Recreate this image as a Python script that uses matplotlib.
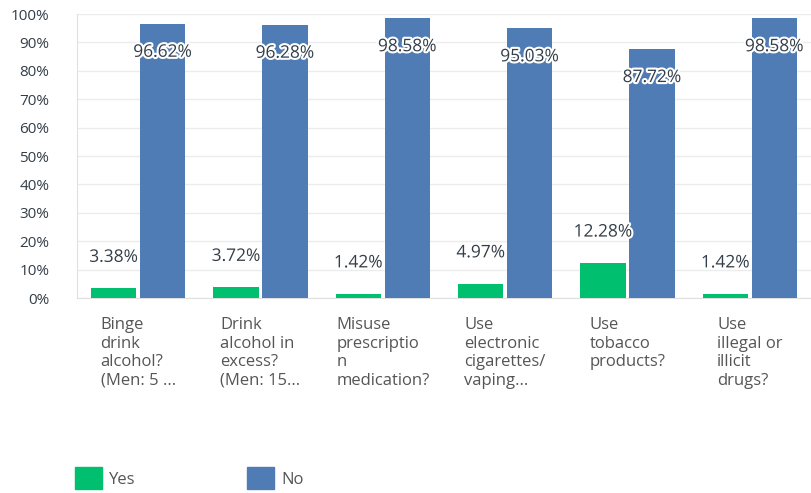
import numpy as np
import matplotlib
matplotlib.use("Agg")
from matplotlib import pyplot as plt
from matplotlib import patheffects as pe
from matplotlib.patches import Patch

# データ
categories = [
    "Binge\ndrink\nalcohol?\n(Men: 5 ...",
    "Drink\nalcohol in\nexcess?\n(Men: 15...",
    "Misuse\nprescriptio\nn\nmedication?",
    "Use\nelectronic\ncigarettes/\nvaping...",
    "Use\ntobacco\nproducts?",
    "Use\nillegal or\nillicit\ndrugs?",
]
yes_vals = [3.38, 3.72, 1.42, 4.97, 12.28, 1.42]
no_vals = [96.62, 96.28, 98.58, 95.03, 87.72, 98.58]
series_names = ["Yes", "No"]
y_ticks = list(range(0, 101, 10))

GREEN = "#00bf6f"
BLUE = "#507cb6"
TXT = "#333e48"

plt.rcParams['font.family'] = ['Open Sans', 'DejaVu Sans']

fig = plt.figure(figsize=(8.11, 4.93), dpi=100)
ax = fig.add_axes([77/811, 195/493, 734/811, 284/493])

x = np.arange(len(categories))
w = 0.37
off = 0.2
b_yes = ax.bar(x - off, yes_vals, w, color=GREEN, zorder=3)
b_no = ax.bar(x + off, no_vals, w, color=BLUE, zorder=3)

halo = [pe.withStroke(linewidth=3, foreground="white")]
for xi, v in zip(x - off, yes_vals):
    ax.annotate(f"{v:.2f}%", (xi, v), xytext=(0, 22), textcoords="offset points",
                ha="center", va="center", fontsize=12.5, color=TXT, path_effects=halo, zorder=5)
for xi, v in zip(x + off, no_vals):
    ax.annotate(f"{v:.2f}%", (xi, v), xytext=(0, -21), textcoords="offset points",
                ha="center", va="center", fontsize=12.5, color=TXT, path_effects=halo, zorder=5)

ax.set_xlim(-0.5, len(categories) - 0.5)
ax.set_ylim(0, 100)
ax.set_yticks(y_ticks)
ax.set_yticklabels([f"{t}%" for t in y_ticks], fontsize=11, color=TXT)
ax.yaxis.grid(True, color="#ececec", linewidth=1, zorder=0)
ax.tick_params(axis="y", length=0, pad=20)
ax.set_xticks([])

for s in ["top", "right"]:
    ax.spines[s].set_visible(False)
ax.spines["left"].set_color("#e0e0e0")
ax.spines["bottom"].set_color("#e0e0e0")

# カテゴリラベル(ブロックは中央、行は左揃え)
for xi, lab in zip(x, categories):
    ax.annotate(lab, (xi, 0), xytext=(0, -14), textcoords="offset points",
                ha="center", va="top", multialignment="left", fontsize=12,
                color="#555555", linespacing=1.2, annotation_clip=False)

handles = [Patch(facecolor=GREEN, edgecolor=GREEN), Patch(facecolor=BLUE, edgecolor=BLUE)]
fig.legend(handles, series_names, loc="lower left", bbox_to_anchor=(60/811, -0.022),
           ncol=2, frameon=False, fontsize=12, handlelength=1.6, handleheight=1.6,
           columnspacing=6.7, handletextpad=0.45, labelcolor="#555555")

fig.savefig("out.png", dpi=100)
